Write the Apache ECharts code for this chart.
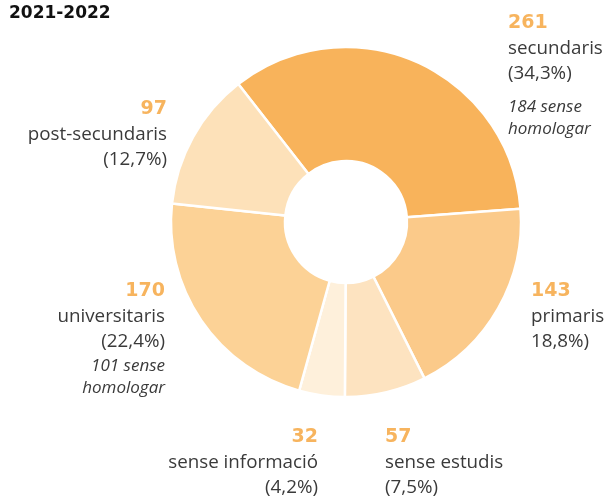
<!DOCTYPE html>
<html>
<head>
<meta charset="utf-8">
<script src="https://cdn.jsdelivr.net/npm/echarts@6/dist/echarts.min.js"></script>
<style>
  html, body { margin: 0; padding: 0; background: #fff; }
  #main { width: 608px; height: 497px; }
</style>
</head>
<body>
<div id="main"></div>
<script>
// data (clockwise from the top-left)
var names = ['secundaris', 'primaris', 'sense estudis', 'sense informació', 'universitaris', 'post-secundaris'];
var values = [261, 143, 57, 32, 170, 97];
var pctLabels = ['(34,3%)', '18,8%)', '(7,5%)', '(4,2%)', '(22,4%)', '(12,7%)'];
var notes = [['184 sense', 'homologar'], [], [], [], ['101 sense', 'homologar'], []];
var colors = ['#F8B35B', '#FBCA8A', '#FDE3C0', '#FEF0DB', '#FCD296', '#FDE1B9'];

// where each label block sits (top-left / top-right corner)
var labelPos = [
    { x: 508, y: 11, align: 'left', gap: 10 },
    { x: 531, y: 279, align: 'left', gap: 0 },
    { x: 385, y: 425, align: 'left', gap: 0 },
    { x: 318, y: 425, align: 'right', gap: 0 },
    { x: 165, y: 279, align: 'right', gap: 1 },
    { x: 167, y: 97, align: 'right', gap: 0 }
];

var myChart = echarts.init(document.getElementById('main'));

var data = names.map(function (n, i) {
    return {
        name: n,
        value: values[i],
        itemStyle: { color: colors[i] },
        label: { align: labelPos[i].align }
    };
});

var option = {
    animation: false,
    title: {
        text: '2021-2022',
        left: 4,
        top: 0,
        textStyle: { fontFamily: 'DejaVu Sans', fontSize: 17, fontWeight: 'bold', color: '#111' }
    },
    series: [{
        type: 'pie',
        center: [346, 222],
        radius: [61, 175],
        startAngle: 128,
        clockwise: true,
        avoidLabelOverlap: false,
        itemStyle: { borderColor: '#fff', borderWidth: 2.5 },
        labelLine: { show: false },
        emphasis: { disabled: true },
        label: {
            show: true,
            position: 'outside',
            formatter: function (p) {
                var i = p.dataIndex;
                var s = '{v|' + values[i] + '}\n{n|' + names[i] + '}\n{n|' + pctLabels[i] + '}';
                if (notes[i].length) {
                    s += '\n{s' + labelPos[i].gap + '| }';
                    notes[i].forEach(function (t) { s += '\n{i|' + t + '}'; });
                }
                return s;
            },
            rich: {
                v: { fontFamily: 'DejaVu Sans', fontSize: 19, fontWeight: 'bold', color: '#F7B45E', lineHeight: 25 },
                n: { fontFamily: 'Open Sans', fontSize: 18.8, color: '#3a3a3a', lineHeight: 25 },
                i: { fontFamily: 'Open Sans', fontSize: 17, fontStyle: 'italic', color: '#3a3a3a', lineHeight: 22 },
                s10: { fontSize: 1, lineHeight: 10 },
                s1: { fontSize: 1, lineHeight: 1 }
            }
        },
        labelLayout: function (params) {
            var lp = labelPos[params.dataIndex];
            return { x: lp.x, y: lp.y, align: lp.align, verticalAlign: 'top', hideOverlap: false };
        },
        data: data
    }]
};

myChart.setOption(option);
</script>
</body>
</html>
